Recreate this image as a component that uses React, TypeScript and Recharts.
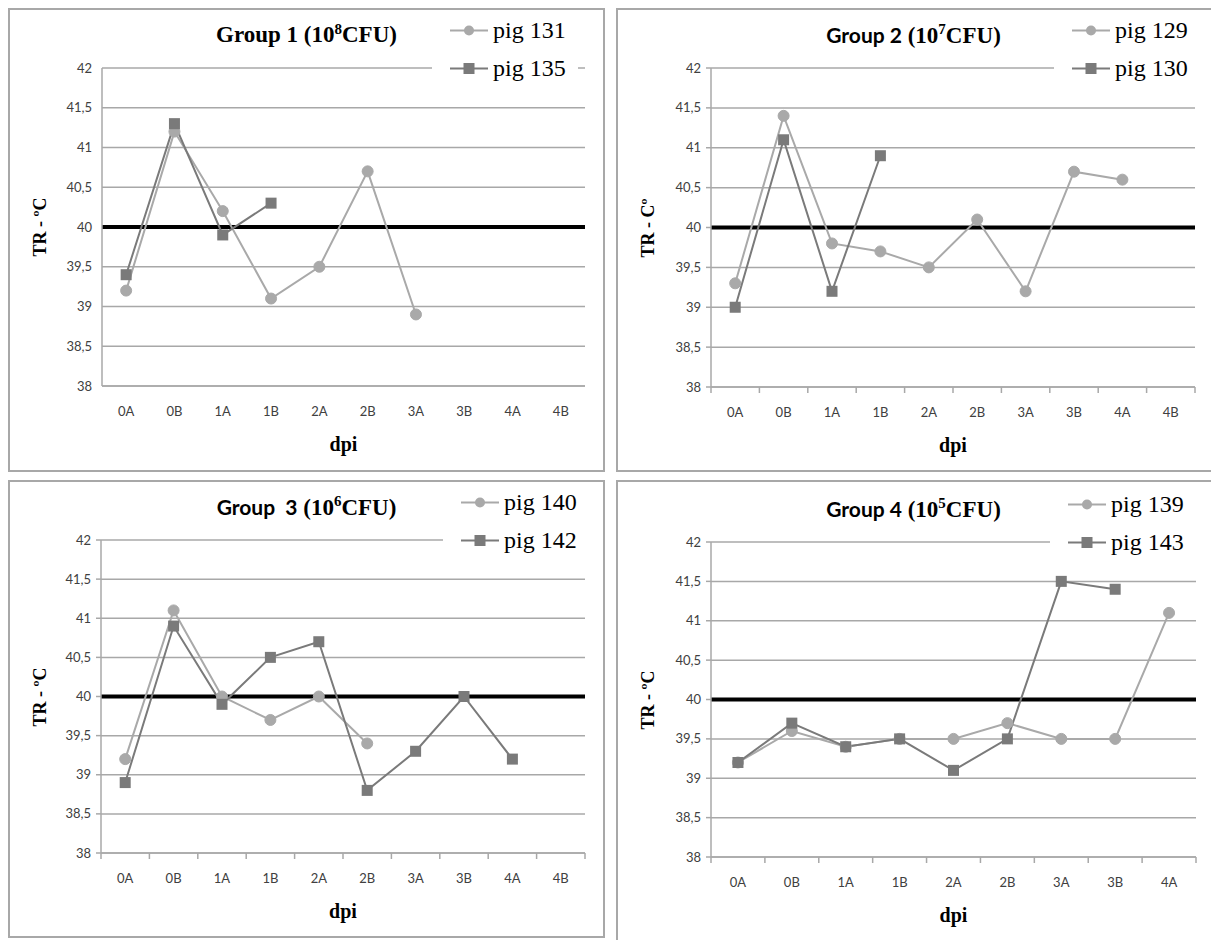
import React from 'react';
import { LineChart, Line, XAxis, YAxis, CartesianGrid, ReferenceLine } from 'recharts';

// dpi categories
const dpiAll = ['0A', '0B', '1A', '1B', '2A', '2B', '3A', '3B', '4A', '4B'];
const dpiShort = ['0A', '0B', '1A', '1B', '2A', '2B', '3A', '3B', '4A'];
const yTicks = [38, 38.5, 39, 39.5, 40, 40.5, 41, 41.5, 42];
const threshold = 40;

// Group 1 (10^8 CFU)
const pig131 = [39.2, 41.2, 40.2, 39.1, 39.5, 40.7, 38.9, null, null, null];
const pig135 = [39.4, 41.3, 39.9, 40.3, null, null, null, null, null, null];
// Group 2 (10^7 CFU)
const pig129 = [39.3, 41.4, 39.8, 39.7, 39.5, 40.1, 39.2, 40.7, 40.6, null];
const pig130 = [39.0, 41.1, 39.2, 40.9, null, null, null, null, null, null];
// Group 3 (10^6 CFU)
const pig140 = [39.2, 41.1, 40.0, 39.7, 40.0, 39.4, null, null, null, null];
const pig142 = [38.9, 40.9, 39.9, 40.5, 40.7, 38.8, 39.3, 40.0, 39.2, null];
// Group 4 (10^5 CFU)
const pig139 = [39.2, 39.6, 39.4, 39.5, 39.5, 39.7, 39.5, 39.5, 41.1];
const pig143 = [39.2, 39.7, 39.4, 39.5, 39.1, 39.5, 41.5, 41.4, null];

const LIGHT = '#a9a9a9';
const DARK = '#7a7a7a';
const GRID = '#a8a8a8';
const TICK_TEXT = '#404040';

const buildRows = (cats: string[], a: (number | null)[], b: (number | null)[]) =>
  cats.map((c, i) => ({ dpi: c, a: a[i] ?? null, b: b[i] ?? null }));

const panels = [
  {
    id: 'g1', group: 'Group 1', groupSerif: true, exp: '8', yTitle: 'TR - ºC',
    rows: buildRows(dpiAll, pig131, pig135), names: ['pig 131', 'pig 135'],
    box: { x: 8, y: 8, w: 597, h: 464 }, plot: { l: 102, r: 585, t: 68, b: 386 },
    ticks: false, legendX: 450,
  },
  {
    id: 'g2', group: 'Group 2', groupSerif: false, exp: '7', yTitle: 'TR - Cº',
    rows: buildRows(dpiAll, pig129, pig130), names: ['pig 129', 'pig 130'],
    box: { x: 616, y: 8, w: 600, h: 464 }, plot: { l: 711, r: 1195, t: 68, b: 387 },
    ticks: true, legendX: 1072,
  },
  {
    id: 'g3', group: 'Group  3', groupSerif: false, exp: '6', yTitle: 'TR - ºC',
    rows: buildRows(dpiAll, pig140, pig142), names: ['pig 140', 'pig 142'],
    box: { x: 8, y: 480, w: 597, h: 458 }, plot: { l: 101, r: 585, t: 540, b: 853 },
    ticks: true, legendX: 461,
  },
  {
    id: 'g4', group: 'Group 4', groupSerif: false, exp: '5', yTitle: 'TR - ºC',
    rows: buildRows(dpiShort, pig139, pig143), names: ['pig 139', 'pig 143'],
    box: { x: 616, y: 480, w: 600, h: 470 }, plot: { l: 711, r: 1196, t: 542, b: 857 },
    ticks: true, legendX: 1068,
  },
];

const squareDot = (color: string, size: number) => (props: any) => {
  const { cx, cy, index } = props;
  if (cx == null || cy == null) return <g key={`s${index}`} />;
  return <rect key={`s${index}`} x={cx - size / 2} y={cy - size / 2} width={size} height={size} fill={color} />;
};

const makeXTick = (band: number, showTicks: boolean, lastIndex: number) => (props: any) => {
  const { x, y, payload, index } = props;
  return (
    <g>
      {showTicks && <line x1={x - band / 2} x2={x - band / 2} y1={y} y2={y + 6} stroke={GRID} strokeWidth={1.5} />}
      {showTicks && index === lastIndex && (
        <line x1={x + band / 2} x2={x + band / 2} y1={y} y2={y + 6} stroke={GRID} strokeWidth={1.5} />
      )}
      <text x={x} y={y + 27} textAnchor="middle" dominantBaseline="middle" fontFamily="Lato" fontSize={13} fill={TICK_TEXT}>
        {payload.value}
      </text>
    </g>
  );
};

const LegendIcon = ({ kind }: { kind: 'circle' | 'square' }) => (
  <svg width={38} height={20} style={{ display: 'block' }}>
    <line x1={0} x2={38} y1={10} y2={10} stroke={kind === 'circle' ? LIGHT : DARK} strokeWidth={2} />
    {kind === 'circle' ? <circle cx={19} cy={10} r={5} fill={LIGHT} /> : <rect x={13.5} y={4.5} width={11} height={11} fill={DARK} />}
  </svg>
);

const serif = '"Liberation Serif", "Times New Roman", serif';

const Panel = ({ p }: { p: (typeof panels)[number] }) => {
  const { box, plot } = p;
  const n = p.rows.length;
  const band = (plot.r - plot.l) / n;
  const cx = box.x + Math.min(box.w, 1211 - box.x) / 2;
  return (
    <>
      <div
        style={{
          position: 'absolute', left: box.x, top: box.y, width: box.w, height: box.h,
          border: `2px solid ${GRID}`, boxSizing: 'border-box', background: '#fff',
        }}
      />
      <div style={{ position: 'absolute', left: box.x, top: box.y }}>
        <LineChart
          width={box.w}
          height={box.h}
          data={p.rows}
          margin={{ top: plot.t - box.y, right: box.x + box.w - plot.r, left: 0, bottom: 0 }}
        >
          <CartesianGrid vertical={false} stroke={GRID} strokeWidth={1.5} />
          <XAxis
            dataKey="dpi"
            interval={0}
            height={box.y + box.h - plot.b}
            padding={{ left: band / 2, right: band / 2 }}
            tickSize={0}
            tickMargin={0}
            tickLine={false}
            axisLine={{ stroke: GRID, strokeWidth: 1.5 }}
            tick={makeXTick(band, p.ticks, n - 1)}
          />
          <YAxis
            type="number"
            domain={[38, 42]}
            ticks={yTicks}
            interval={0}
            width={plot.l - box.x}
            axisLine={{ stroke: GRID, strokeWidth: 1.5 }}
            tickLine={p.ticks ? { stroke: GRID, strokeWidth: 1.5 } : false}
            tickSize={p.ticks ? 5 : 0}
            tickMargin={p.ticks ? 5 : 10}
            tickFormatter={(v: number) => String(v).replace('.', ',')}
            tick={{ fontFamily: 'Lato', fontSize: 13, fill: TICK_TEXT }}
          />
          <ReferenceLine y={threshold} stroke="#000" strokeWidth={4} />
          <Line
            dataKey="a"
            stroke={LIGHT}
            strokeWidth={2}
            dot={{ r: 5.5, fill: LIGHT, stroke: LIGHT, strokeWidth: 1 }}
            isAnimationActive={false}
            connectNulls={false}
          />
          <Line
            dataKey="b"
            stroke={DARK}
            strokeWidth={2}
            dot={squareDot(DARK, 11)}
            isAnimationActive={false}
            connectNulls={false}
          />
        </LineChart>
      </div>
      {/* title */}
      <div
        style={{
          position: 'absolute', left: cx, top: plot.t - 33, transform: 'translate(-50%, -50%)',
          whiteSpace: 'pre', fontWeight: 'bold', color: '#000', fontSize: 23,
        }}
      >
        <span style={{ fontFamily: p.groupSerif ? serif : 'Lato', fontSize: p.groupSerif ? 23 : 21 }}>{p.group}</span>
        <span style={{ fontFamily: serif }}>
          {' (10'}
          <sup style={{ fontSize: 15, verticalAlign: 'top', position: 'relative', top: -1 }}>{p.exp}</sup>
          {'CFU)'}
        </span>
      </div>
      {/* legend */}
      <div
        style={{
          position: 'absolute', left: p.legendX - 18, top: plot.t - 56, width: 146, height: 74, background: '#fff',
        }}
      />
      {p.names.map((name, i) => (
        <div
          key={name}
          style={{
            position: 'absolute', left: p.legendX, top: plot.t - 38 + i * 38, transform: 'translateY(-50%)',
            display: 'flex', alignItems: 'center', gap: 5, fontFamily: serif, fontSize: 24, whiteSpace: 'nowrap',
          }}
        >
          <LegendIcon kind={i === 0 ? 'circle' : 'square'} />
          <span>{name}</span>
        </div>
      ))}
      {/* y axis title */}
      <div
        style={{
          position: 'absolute', left: box.x + 32, top: (plot.t + plot.b) / 2, transform: 'translate(-50%, -50%) rotate(-90deg)',
          fontFamily: serif, fontWeight: 'bold', fontSize: 18, whiteSpace: 'nowrap',
        }}
      >
        {p.yTitle}
      </div>
      {/* x axis title */}
      <div
        style={{
          position: 'absolute', left: (plot.l + plot.r) / 2, top: plot.b + 58, transform: 'translate(-50%, -50%)',
          fontFamily: serif, fontWeight: 'bold', fontSize: 20,
        }}
      >
        dpi
      </div>
    </>
  );
};

export default function App() {
  return (
    <div style={{ position: 'absolute', left: 0, top: 0, width: 1211, height: 940, overflow: 'hidden', background: '#fff' }}>
      {panels.map((p) => (
        <Panel key={p.id} p={p} />
      ))}
    </div>
  );
}
